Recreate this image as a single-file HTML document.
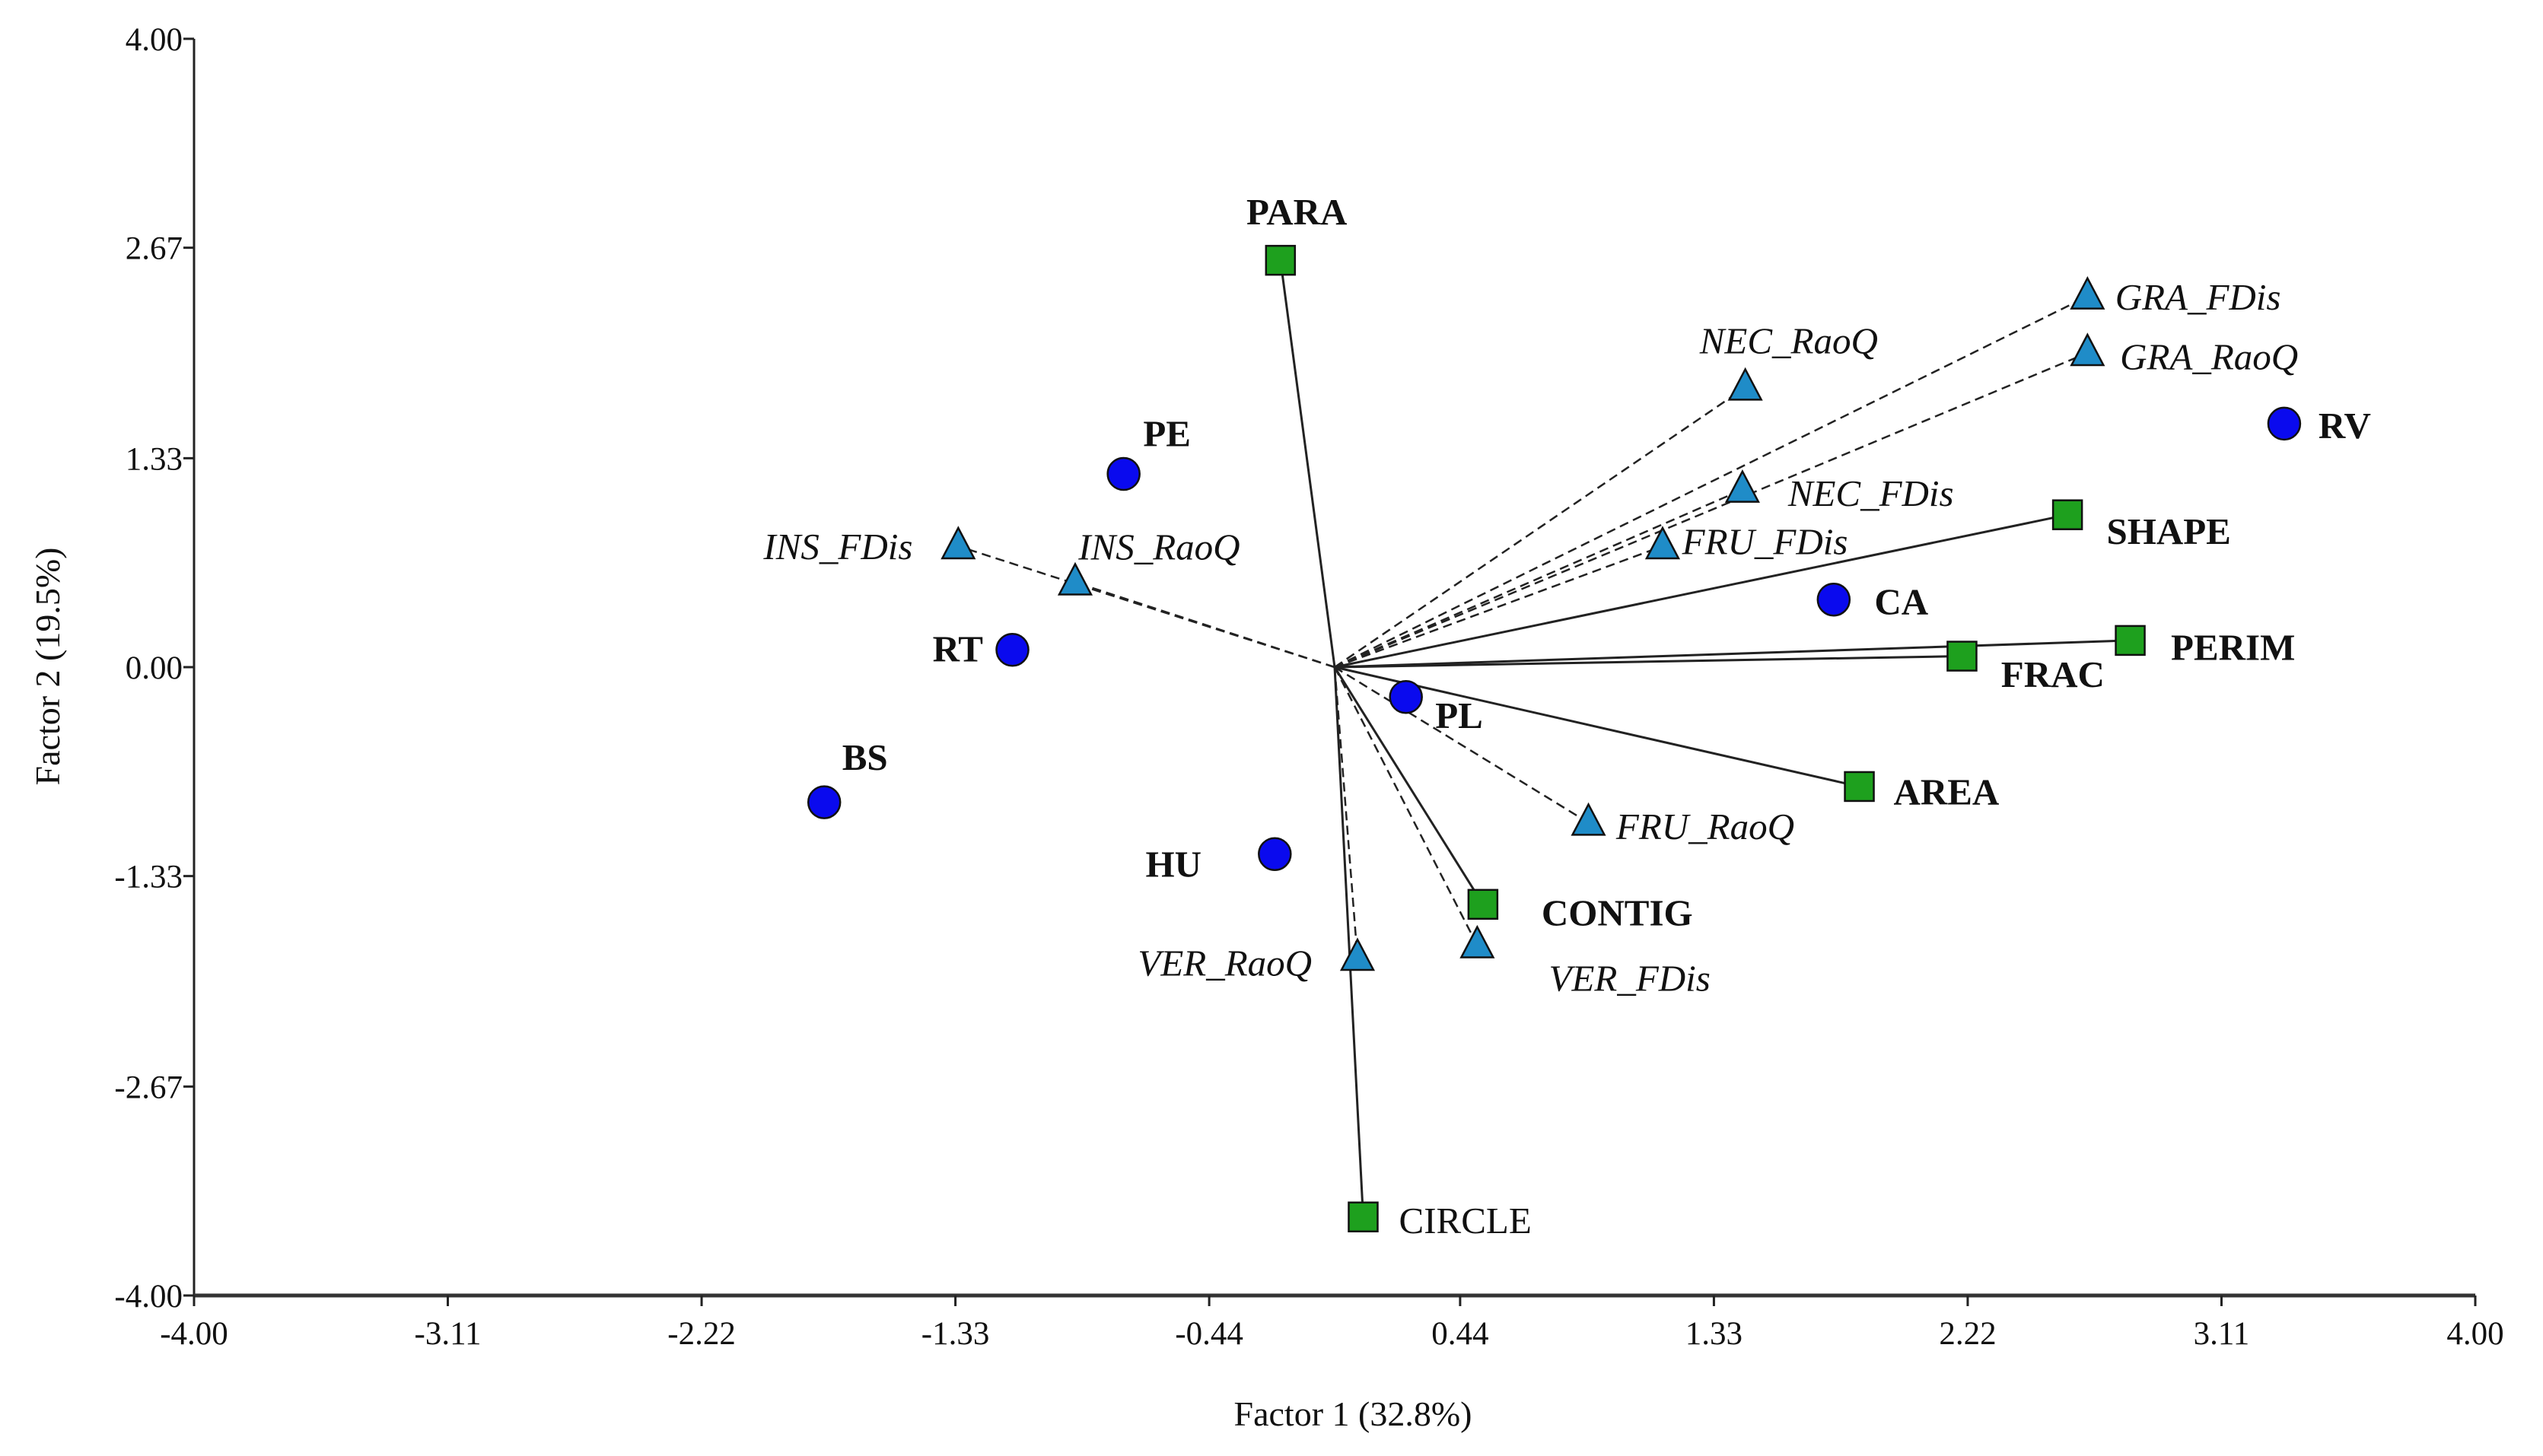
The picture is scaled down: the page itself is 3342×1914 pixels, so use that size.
<!DOCTYPE html>
<html><head><meta charset="utf-8"><style>
html,body{margin:0;padding:0;background:#fff}
svg{display:block}
text{font-family:"Liberation Serif",serif;fill:#111}
</style></head><body>
<svg id="chart" width="3342" height="1914" viewBox="0 0 3342 1914" xmlns="http://www.w3.org/2000/svg">
<g id="axes"></g>
<g id="lines"></g>
<g id="marks"></g>
<g id="labels"></g>
</svg>
<script>
const xTicks = [-4.00,-3.11,-2.22,-1.33,-0.44,0.44,1.33,2.22,3.11,4.00];
const yTicks = [-4.00,-2.67,-1.33,0.00,1.33,2.67,4.00];
const circleNames = ["PE","RT","BS","HU","PL","CA","RV"];
const circleX = [-0.74,-1.13,-1.79,-0.21,0.25,1.75,3.33];
const circleY = [1.23,0.11,-0.86,-1.19,-0.19,0.43,1.55];
const squareNames = ["PARA","SHAPE","PERIM","FRAC","AREA","CONTIG","CIRCLE"];
const squareX = [-0.19,2.57,2.79,2.20,1.84,0.52,0.10];
const squareY = [2.59,0.97,0.17,0.07,-0.76,-1.51,-3.50];
const triNames = ["INS_FDis","INS_RaoQ","NEC_RaoQ","NEC_FDis","FRU_FDis","GRA_FDis","GRA_RaoQ","FRU_RaoQ","VER_RaoQ","VER_FDis"];
const triX = [-1.32,-0.91,1.44,1.43,1.15,2.64,2.64,0.89,0.08,0.50];
const triY = [0.77,0.54,1.78,1.13,0.77,2.36,2.00,-0.99,-1.85,-1.77];

const X0=255,X1=3253,Y0=1703,Y1=51;
const sx=v=>X0+(v+4)/8*(X1-X0);
const sy=v=>Y0-(v+4)/8*(Y0-Y1);
const NS="http://www.w3.org/2000/svg";
function mk(tag,attrs,parent){const e=document.createElementNS(NS,tag);for(const k in attrs)e.setAttribute(k,attrs[k]);parent.appendChild(e);return e;}
const axes=document.getElementById('axes'),lines=document.getElementById('lines'),marks=document.getElementById('marks'),labels=document.getElementById('labels');

let a=mk('line',{x1:X0,y1:Y1,x2:X0,y2:Y0,stroke:'#222','stroke-width':3},axes);


a=mk('line',{x1:X0,y1:Y0,x2:X1,y2:Y0,stroke:'#333','stroke-width':5},axes);


xTicks.forEach(t=>{
  const x=sx(t);
  const tk=mk('line',{x1:x,y1:Y0,x2:x,y2:Y0+14,stroke:'#222','stroke-width':3},axes);
  
  
  const tx=mk('text',{x:x,y:Y0+64,'text-anchor':'middle','font-size':43},axes);
  tx.textContent=t.toFixed(2);
  
  
});
yTicks.forEach(t=>{
  const y=sy(t);
  const tk=mk('line',{x1:X0-14,y1:y,x2:X0,y2:y,stroke:'#222','stroke-width':3},axes);
  
  
  const tx=mk('text',{x:X0-15,y:y+15,'text-anchor':'end','font-size':43},axes);
  tx.textContent=t.toFixed(2);
  
  
});
let tt=mk('text',{x:1778,y:1874,'text-anchor':'middle','font-size':46},axes);
tt.textContent='Factor 1 (32.8%)';


tt=mk('text',{x:0,y:0,'text-anchor':'middle','font-size':46,transform:'translate(78,876) rotate(-90)'},axes);
tt.textContent='Factor 2 (19.5%)';



const OX=sx(0),OY=sy(0),S=2.14;
const off={PE:['start',12,-17],RT:['end',-18,7],BS:['start',11,-20],HU:['end',-45,14],PL:['start',18,19],CA:['start',25,9],RV:['start',21,9],
PARA:['middle',10,-22],SHAPE:['start',24,18],PERIM:['start',25,12],FRAC:['start',24,19],AREA:['start',21,11],CONTIG:['start',36,13],CIRCLE:['start',22,10],
INS_FDis:['end',-28,8],INS_RaoQ:['start',2,-14],NEC_RaoQ:['start',-28,-21],NEC_FDis:['start',28,10],FRU_FDis:['start',12,5],GRA_FDis:['start',17,8],GRA_RaoQ:['start',20,10],FRU_RaoQ:['start',17,10],VER_RaoQ:['end',-28,11],VER_FDis:['start',44,28]};
function label(n,x,y,italic,bold){
  const o=off[n];
  const t=mk('text',{x:x+o[1]*S,y:y+o[2]*S,'text-anchor':o[0],'font-size':49,'font-style':italic?'italic':'normal','font-weight':bold?'bold':'normal'},labels);
  t.textContent=n;
  
  
}
triNames.forEach((n,i)=>{
  const l=mk('line',{x1:OX,y1:OY,x2:sx(triX[i]),y2:sy(triY[i]),stroke:'#222','stroke-width':2.5,'stroke-dasharray':'12 7'},lines);
  
  
});
squareNames.forEach((n,i)=>{
  const l=mk('line',{x1:OX,y1:OY,x2:sx(squareX[i]),y2:sy(squareY[i]),stroke:'#222','stroke-width':3},lines);
  
  
});
circleNames.forEach((n,i)=>{
  const x=sx(circleX[i]),y=sy(circleY[i]);
  const c=mk('circle',{cx:x,cy:y,r:21,fill:'#0a0aee',stroke:'#111','stroke-width':2.5},marks);
  
  
  label(n,x,y,false,true);
});
squareNames.forEach((n,i)=>{
  const x=sx(squareX[i]),y=sy(squareY[i]);
  const r=mk('rect',{x:x-19,y:y-19,width:38,height:38,fill:'#1ea01e',stroke:'#111','stroke-width':2.5},marks);
  
  
  label(n,x,y,false,n!=='CIRCLE');
});
triNames.forEach((n,i)=>{
  const x=sx(triX[i]),y=sy(triY[i]);
  const p=mk('polygon',{points:`${x},${y-24} ${x-21},${y+16} ${x+21},${y+16}`,fill:'#1f8cc8',stroke:'#111','stroke-width':2.5},marks);
  
  
  label(n,x,y,true,false);
});
</script>
</body></html>
